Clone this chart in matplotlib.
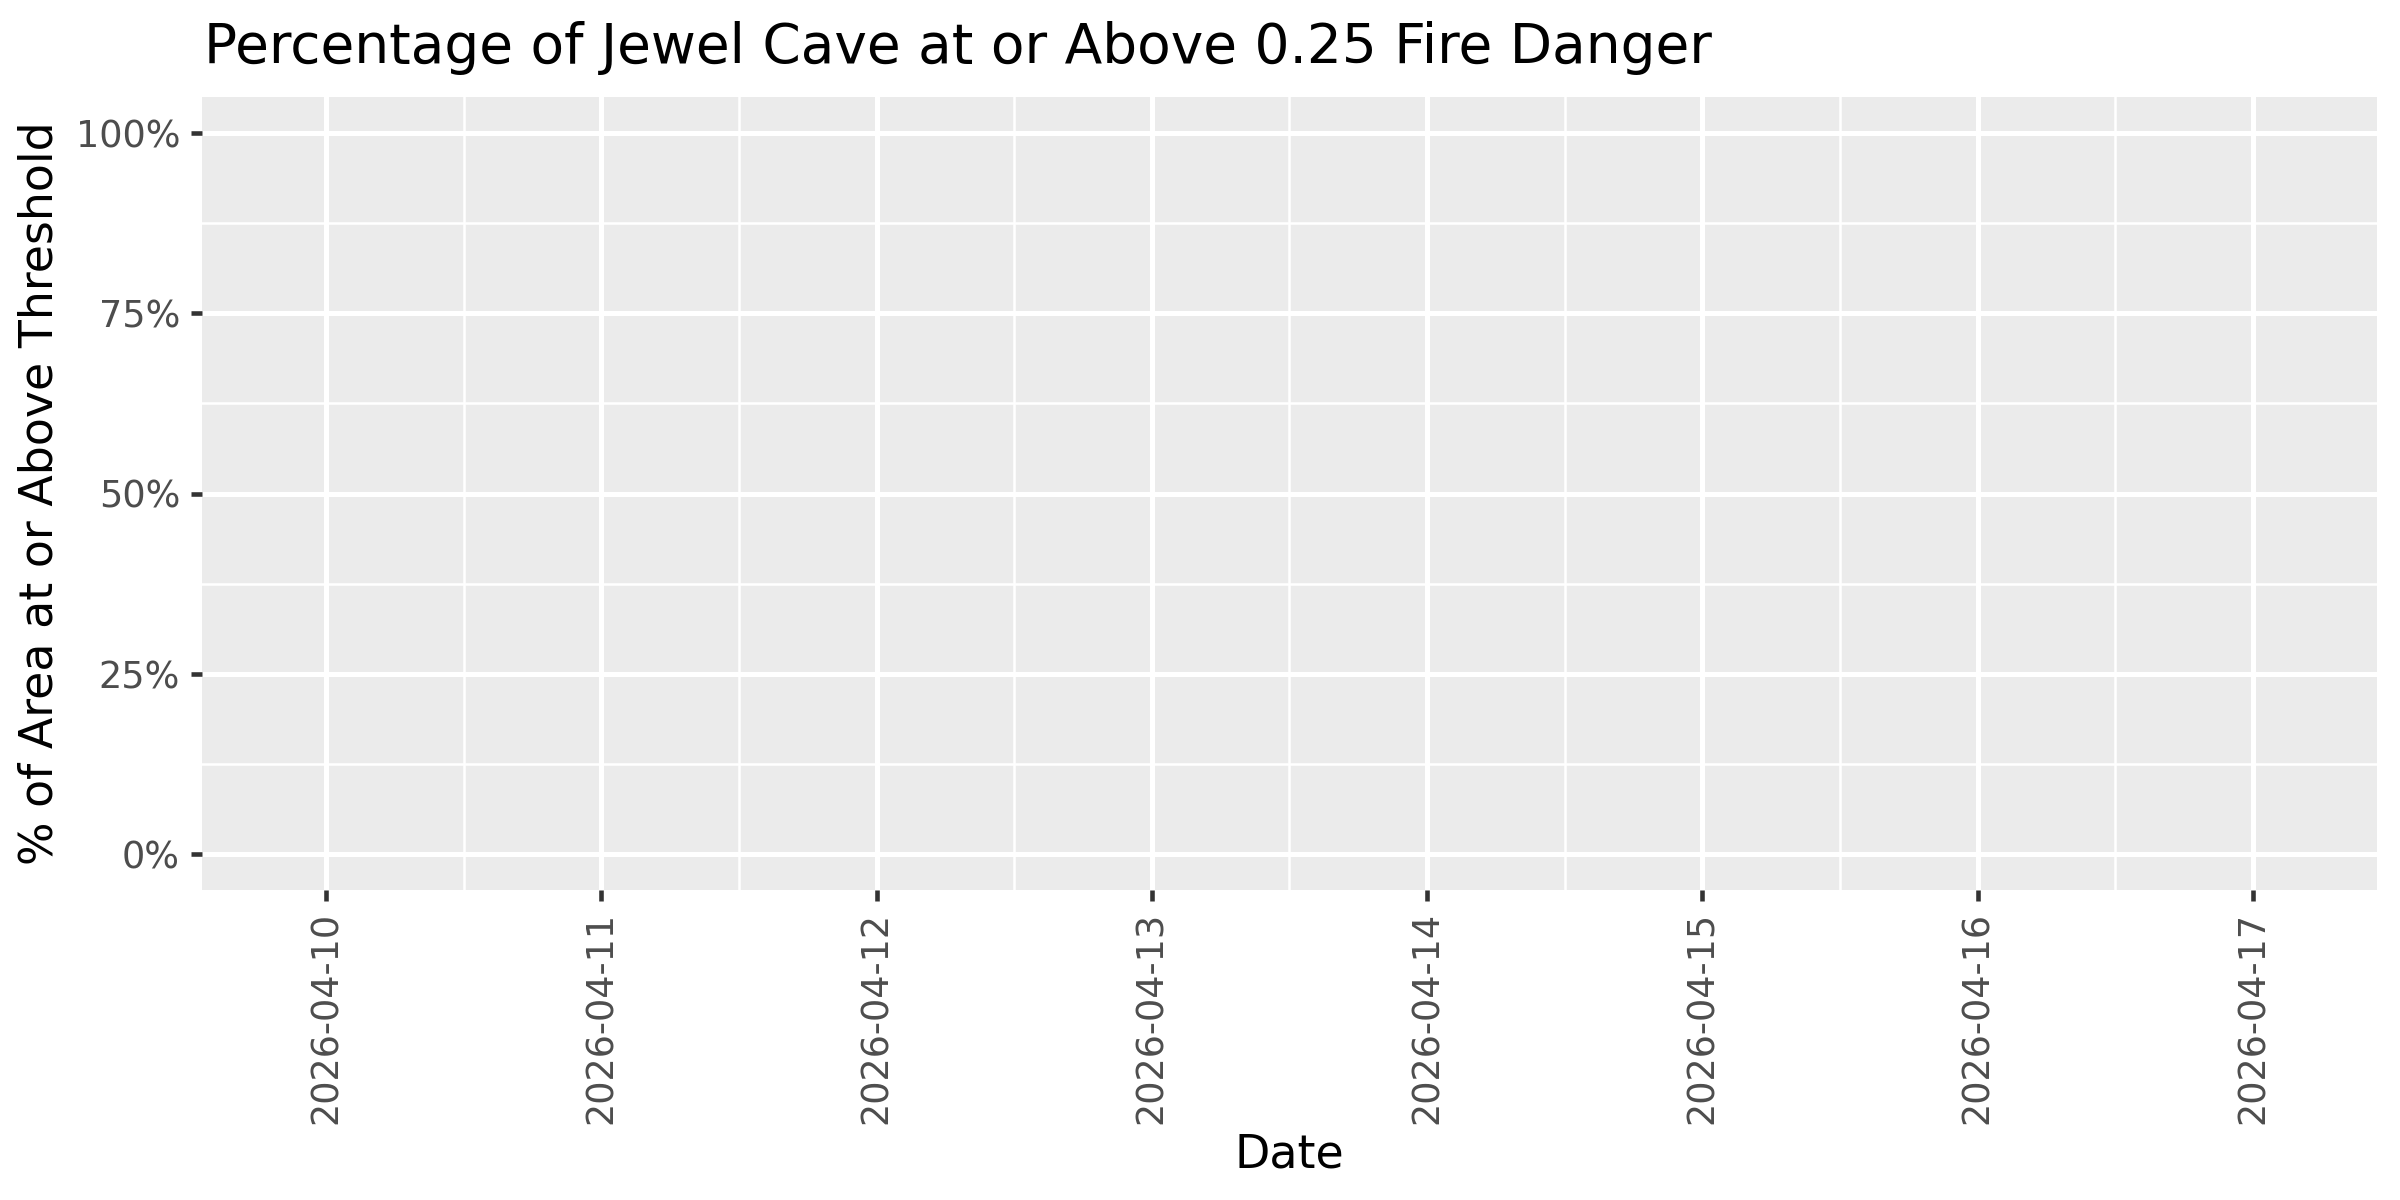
import numpy as np
import pandas as pd
import matplotlib
matplotlib.use("Agg")
import matplotlib.pyplot as plt
import matplotlib.dates as mdates
from matplotlib.ticker import PercentFormatter, MultipleLocator

# Data (every day is 0% of the area at or above threshold)
dates = pd.date_range("2026-04-10", "2026-04-17", freq="D")
pct_above = [0.0, 0.0, 0.0, 0.0, 0.0, 0.0, 0.0, 0.0]
y_breaks = [0.0, 0.25, 0.5, 0.75, 1.0]

plt.rcParams["font.family"] = ["DejaVu Sans"]

fig = plt.figure(figsize=(8, 4), dpi=300)
ax = fig.add_axes([202 / 2400, 1 - 890 / 1200, 2175 / 2400, 793 / 1200])
ax.set_facecolor("#EBEBEB")

# zero-height columns, so nothing shows
ax.bar(dates, pct_above, width=0.9, color="#595959", linewidth=0)

ax.set_xlim(mdates.date2num(dates[0]) - 0.45, mdates.date2num(dates[-1]) + 0.45)
ax.set_ylim(-0.05, 1.05)

ax.set_xticks(dates)
ax.xaxis.set_major_formatter(mdates.DateFormatter("%Y-%m-%d"))
ax.xaxis.set_minor_locator(MultipleLocator(1, offset=0.5))
ax.set_yticks(y_breaks)
ax.yaxis.set_major_formatter(PercentFormatter(xmax=1, decimals=0))
ax.yaxis.set_minor_locator(MultipleLocator(0.125))

ax.grid(which="major", color="white", linewidth=1.2)
ax.grid(which="minor", color="white", linewidth=0.6)
ax.set_axisbelow(True)
for s in ax.spines.values():
    s.set_visible(False)

ax.tick_params(which="major", length=2.75, width=1.1, color="#333333",
               labelcolor="#4D4D4D", labelsize=8.8, pad=2.5)
ax.tick_params(which="minor", length=0)
plt.setp(ax.get_xticklabels(), rotation=90)

ax.set_xlabel("Date", fontsize=11, color="black")
ax.xaxis.set_label_coords(0.5, -(1168 - 890) / 793 + 0.0)
ax.xaxis.label.set_va("baseline")
ax.set_ylabel("% of Area at or Above Threshold", fontsize=11, color="black")
ax.yaxis.set_label_coords(-(202 - 40) / 2175, 0.5)
ax.yaxis.label.set_va("center")

fig.text(204 / 2400, 1 - 63 / 1200, "Percentage of Jewel Cave at or Above 0.25 Fire Danger",
         fontsize=13.2, color="black", ha="left", va="baseline")

fig.savefig("out.png", dpi=300, facecolor="white")
